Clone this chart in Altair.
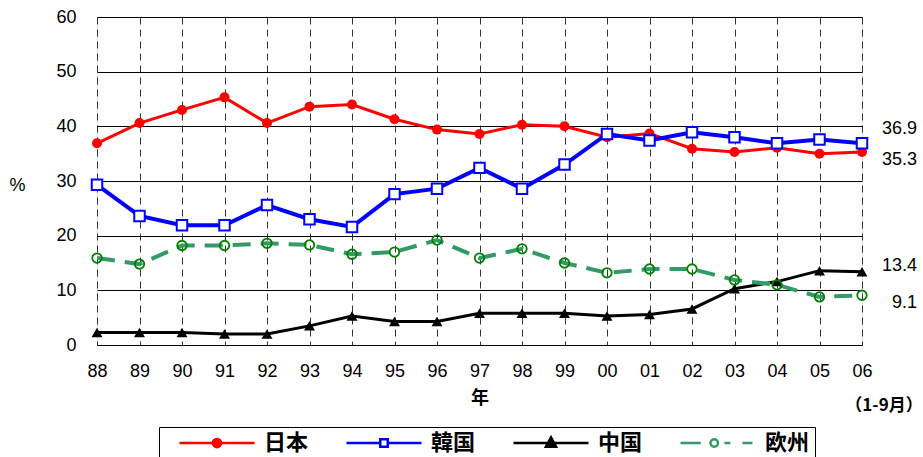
import altair as alt
import pandas as pd

years = ["88", "89", "90", "91", "92", "93", "94", "95", "96", "97",
         "98", "99", "00", "01", "02", "03", "04", "05", "06"]
series_names = ["日本", "韓国", "中国", "欧州"]
japan = [36.9, 40.6, 43.0, 45.3, 40.6, 43.6, 44.0, 41.3, 39.4, 38.6,
         40.3, 40.0, 38.0, 38.7, 35.9, 35.3, 36.1, 35.0, 35.3]
korea = [29.3, 23.6, 21.9, 21.9, 25.6, 23.0, 21.6, 27.6, 28.6, 32.4,
         28.6, 33.0, 38.6, 37.4, 38.9, 38.0, 36.9, 37.6, 36.9]
china = [2.3, 2.3, 2.3, 2.0, 2.0, 3.5, 5.3, 4.3, 4.3, 5.8,
         5.8, 5.8, 5.3, 5.6, 6.6, 10.3, 11.6, 13.6, 13.4]
europe = [15.9, 14.8, 18.2, 18.2, 18.6, 18.3, 16.6, 17.0, 19.2, 15.9,
          17.6, 15.0, 13.2, 13.9, 13.9, 11.9, 11.0, 8.8, 9.1]
y_ticks = [0, 10, 20, 30, 40, 50, 60]
period_note = "（1-9月）"

rows = []
for name, vals in zip(series_names, [japan, korea, china, europe]):
    for yr, v in zip(years, vals):
        rows.append({"year": yr, "series": name, "value": v})
df = pd.DataFrame(rows)

last = pd.DataFrame({"series": series_names,
                     "year": [years[-1]] * 4,
                     "value": [japan[-1], korea[-1], china[-1], europe[-1]]})

FONT = "Liberation Sans"
CJK = "Noto Sans CJK JP"

x_enc = alt.X("year:O",
              scale=alt.Scale(type="point", padding=0, domain=years),
              axis=alt.Axis(title="年", labelAngle=0, labelFont=FONT, labelFontSize=18,
                            labelColor="black", labelPadding=17, tickSize=0, ticks=False,
                            domain=False, grid=True, gridColor="#333333", gridDash=[7, 5],
                            gridWidth=1, titleFont=CJK, titleFontSize=18,
                            titleFontWeight="bold", titleColor="black",
                            titleY=53, titleBaseline="middle"))
y_enc = alt.Y("value:Q",
              scale=alt.Scale(domain=[0, 60], nice=False, zero=True),
              axis=alt.Axis(values=y_ticks, title="%", titleAngle=0, titleX=-80, titleY=168,
                            titleAlign="center", titleBaseline="middle",
                            titleFont=FONT, titleFontSize=18, titleFontWeight="normal",
                            titleColor="black", labelFont=FONT, labelFontSize=18,
                            labelColor="black", labelPadding=21, tickSize=0, ticks=False,
                            domain=False, grid=True, gridColor="black", gridWidth=1))

base = alt.Chart(df)

styles = {
    "日本": dict(color="#FF0000", width=3, dash=None),
    "韓国": dict(color="#0000FF", width=4, dash=None),
    "中国": dict(color="#000000", width=3, dash=None),
    "欧州": dict(color="#339966", width=4, dash=[18, 10]),
}

layers = []
for name in series_names:
    st = styles[name]
    kw = dict(color=st["color"], strokeWidth=st["width"])
    if st["dash"]:
        kw["strokeDash"] = st["dash"]
    layers.append(base.transform_filter(alt.datum.series == name)
                  .mark_line(**kw).encode(x=x_enc, y=y_enc))

point_marks = {
    "日本": dict(shape="circle", size=100, filled=True, color="#FF0000", opacity=1),
    "韓国": dict(shape="square", size=110, filled=True, fill="white", stroke="#0000FF",
               strokeWidth=2, opacity=1),
    "中国": dict(shape="triangle-up", size=120, filled=True, color="#000000", opacity=1),
    "欧州": dict(shape="circle", size=90, filled=False, color="#008000", strokeWidth=1.8,
               opacity=1),
}
for name in series_names:
    layers.append(base.transform_filter(alt.datum.series == name)
                  .mark_point(**point_marks[name]).encode(x=x_enc, y=y_enc))

# legend symbols: line + marker drawn as custom paths (unit = half symbol width)
legend_paths = [
    "M-1,0L1,0M0.11,0A0.11,0.11,0,1,1,-0.11,0A0.11,0.11,0,1,1,0.11,0Z",
    "M-1,0L-0.1,0M0.1,0L1,0M-0.1,-0.1L0.1,-0.1L0.1,0.1L-0.1,0.1Z",
    "M-1,0L1,0M0,-0.15L0.135,0.1L-0.135,0.1Z",
    "M-1,0L-0.46,0M0.0,0A0.1,0.1,0,1,1,-0.2,0A0.1,0.1,0,1,1,0.0,0ZM0.17,0L0.33,0M0.65,0L0.92,0",
]
legend_fill = ["#FF0000", "white", "#000000", "white"]
legend_stroke = ["#FF0000", "#0000FF", "#000000", "#339966"]

leg = alt.Legend(title=None, orient="none", legendX=62, legendY=410, direction="horizontal",
                 columns=4, symbolSize=5625, symbolStrokeWidth=2.5, symbolOffset=14,
                 labelOffset=8, columnPadding=22, padding=5, clipHeight=22,
                 labelFont=CJK, labelFontSize=22, labelFontWeight="bold", labelColor="black",
                 strokeColor="black")

legend_layer = base.transform_filter("false").mark_point(opacity=1, filled=True).encode(
    shape=alt.Shape("series:N", scale=alt.Scale(domain=series_names, range=legend_paths),
                    legend=leg),
    fill=alt.Fill("series:N", scale=alt.Scale(domain=series_names, range=legend_fill),
                  legend=leg),
    stroke=alt.Stroke("series:N", scale=alt.Scale(domain=series_names, range=legend_stroke),
                      legend=leg),
)
layers.append(legend_layer)

dys = {"日本": 8, "韓国": -14, "中国": -6, "欧州": 8}
for name in series_names:
    layers.append(alt.Chart(last).transform_filter(alt.datum.series == name)
                  .mark_text(align="right", baseline="middle", dx=55, dy=dys[name],
                             font=FONT, fontSize=18, color="black")
                  .encode(x=x_enc, y=y_enc, text=alt.Text("value:Q", format=".1f")))

note = alt.Chart(pd.DataFrame({"note": [period_note]})).mark_text(
    align="center", baseline="middle", dx=22, font=CJK, fontSize=17,
    fontWeight="bold", color="black").encode(
    x=alt.datum(years[-1]), y=alt.value(389), text="note:N")
layers.append(note)

chart = alt.layer(*layers).properties(
    width=765, height=328,
    autosize=alt.AutoSizeParams(type="none"),
    padding={"left": 97, "top": 17, "right": 61, "bottom": 112},
).configure_view(stroke="black", strokeWidth=2).configure(background="white")

chart.save("out.html", embed_options={"renderer": "svg", "actions": False})
